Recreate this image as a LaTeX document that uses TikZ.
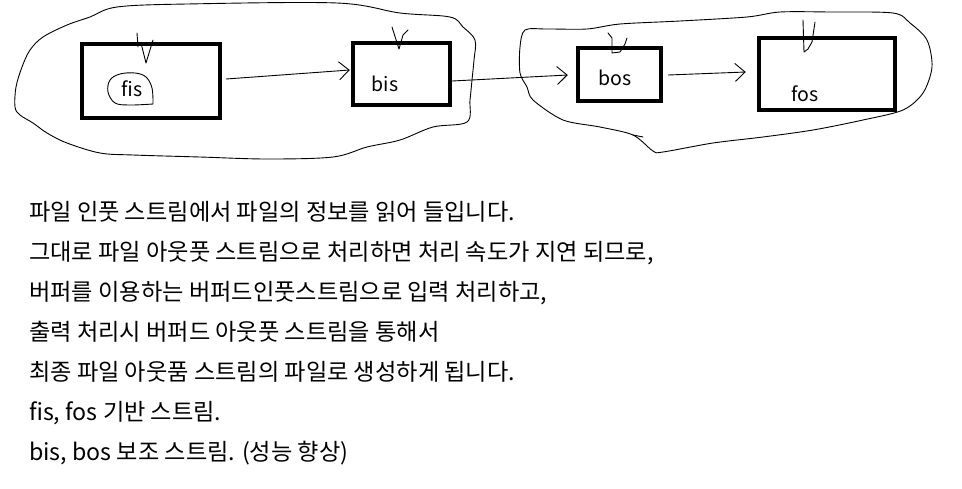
\documentclass[tikz,border=0pt]{standalone}
\usepackage{fontspec}
\setmainfont{Noto Sans CJK KR}
\usepackage{xcolor}
\definecolor{InkBlack}{HTML}{000000}
\definecolor{PaperWhite}{HTML}{FFFFFF}
\usepackage{tikz}
\usetikzlibrary{positioning,calc,arrows.meta}

\begin{document}
\begin{tikzpicture}[x=1pt, y=-1pt,
    streambox/.style={draw=InkBlack, line width=4.5pt, inner sep=0pt},
    streamname/.style={font=\fontsize{19.5pt}{22pt}\selectfont, color=InkBlack, inner sep=0pt},
    sketch/.style={draw=InkBlack, line width=0.9pt, line join=round, line cap=round},
    flow/.style={sketch, -{Straight Barb[length=10pt, width=18pt]}},
    noteline/.style={font=\fontsize{23.2pt}{28pt}\selectfont, color=InkBlack, anchor=base west, inner sep=0pt}]
    \fill[PaperWhite] (0,0) rectangle (962,488);
    \useasboundingbox (0,0) rectangle (962,488);

    % Stream boxes
    \node[streambox, minimum width=138pt, minimum height=74pt] (fisbox) at (151,81) {};
    \node[streambox, minimum width=97pt, minimum height=62pt] (bisbox) at (401.5,74) {};
    \node[streambox, minimum width=83pt, minimum height=53pt] (bosbox) at (619.5,74.5) {};
    \node[streambox, minimum width=136pt, minimum height=72pt] (fosbox) at (827,74) {};

    % Stream names
    \node[streamname] (fis) at (132,89) {fis};
    \node[streamname] (bis) at (385,84) {bis};
    \node[streamname] (bos) at (615,78) {bos};
    \node[streamname] (fos) at (805,94) {fos};

    % Loop round fis
    \draw[sketch] plot[smooth, tension=0.6] coordinates {(153,104) (130,105) (115,103) (108,92) (110,80) (120,74) (135,73) (146,77) (152,88) (153,104)};

    % Input side
    \draw[sketch] plot[smooth cycle, tension=0.55] coordinates {(337,3) (187,4) (117,7) (90,17) (67,25) (43,37) (30,50) (22,67) (16,87) (15,107) (20,115) (33,123) (47,133) (67,143) (100,153) (133,155) (200,157) (267,159) (333,157) (367,147) (400,140) (433,127) (467,122) (470,100) (472,80) (474,60) (475,40) (463,27) (450,17) (400,13)};

    % Output side
    \draw[sketch] plot[smooth cycle, tension=0.5] coordinates {(525,30) (547,29) (587,29) (620,24) (680,21) (747,17) (780,12) (830,12) (893,13) (910,23) (927,40) (932,67) (923,93) (903,110) (863,120) (813,130) (763,137) (713,143) (663,152) (653,151) (633,135) (600,127) (563,120) (533,100) (527,87) (520,73) (520,47)};
    \draw[sketch] (633,135) -- (643,137);

    % Ticks into the boxes
    \draw[sketch] (137,33) -- (138,47) (141,43) -- (146,63) -- (153,40);
    \draw[sketch] (392,27) -- (399,49) -- (403,35) -- (408,30);
    \draw[sketch] (608,33) -- (612,38) -- (612,53) -- (620,52) -- (625,44) -- (627,38);
    \draw[sketch] (803,20) -- (804,52) -- (808,49) -- (812,42) -- (815,22);

    % Flow between streams
    \draw[flow] ([xshift=4pt, yshift=2pt]fisbox.east) -- ([xshift=-1pt, yshift=4pt]bisbox.west);
    \draw[flow] ([yshift=-7pt]bisbox.east) -- ([xshift=-8pt, yshift=-0.5pt]bosbox.west);
    \draw[flow] ([xshift=5pt, yshift=-0.5pt]bosbox.east) -- ([xshift=-11pt, yshift=2pt]fosbox.west);

    % Notes
    \foreach \txt [count=\i from 1] in {
      {파일 인풋 스트림에서 파일의 정보를 읽어 들입니다.},
      {그대로 파일 아웃풋 스트림으로 처리하면 처리 속도가 지연 되므로,},
      {버퍼를 이용하는 버퍼드인풋스트림으로 입력 처리하고,},
      {출력 처리시 버퍼드 아웃풋 스트림을 통해서},
      {최종 파일 아웃품 스트림의 파일로 생성하게 됩니다.},
      {fis, fos 기반 스트림.},
      {bis, bos 보조 스트림. (성능 향상)}} {
      \node[noteline] (line\i) at (29,{180.5+40*\i}) {\txt};
    }
\end{tikzpicture}
\end{document}
